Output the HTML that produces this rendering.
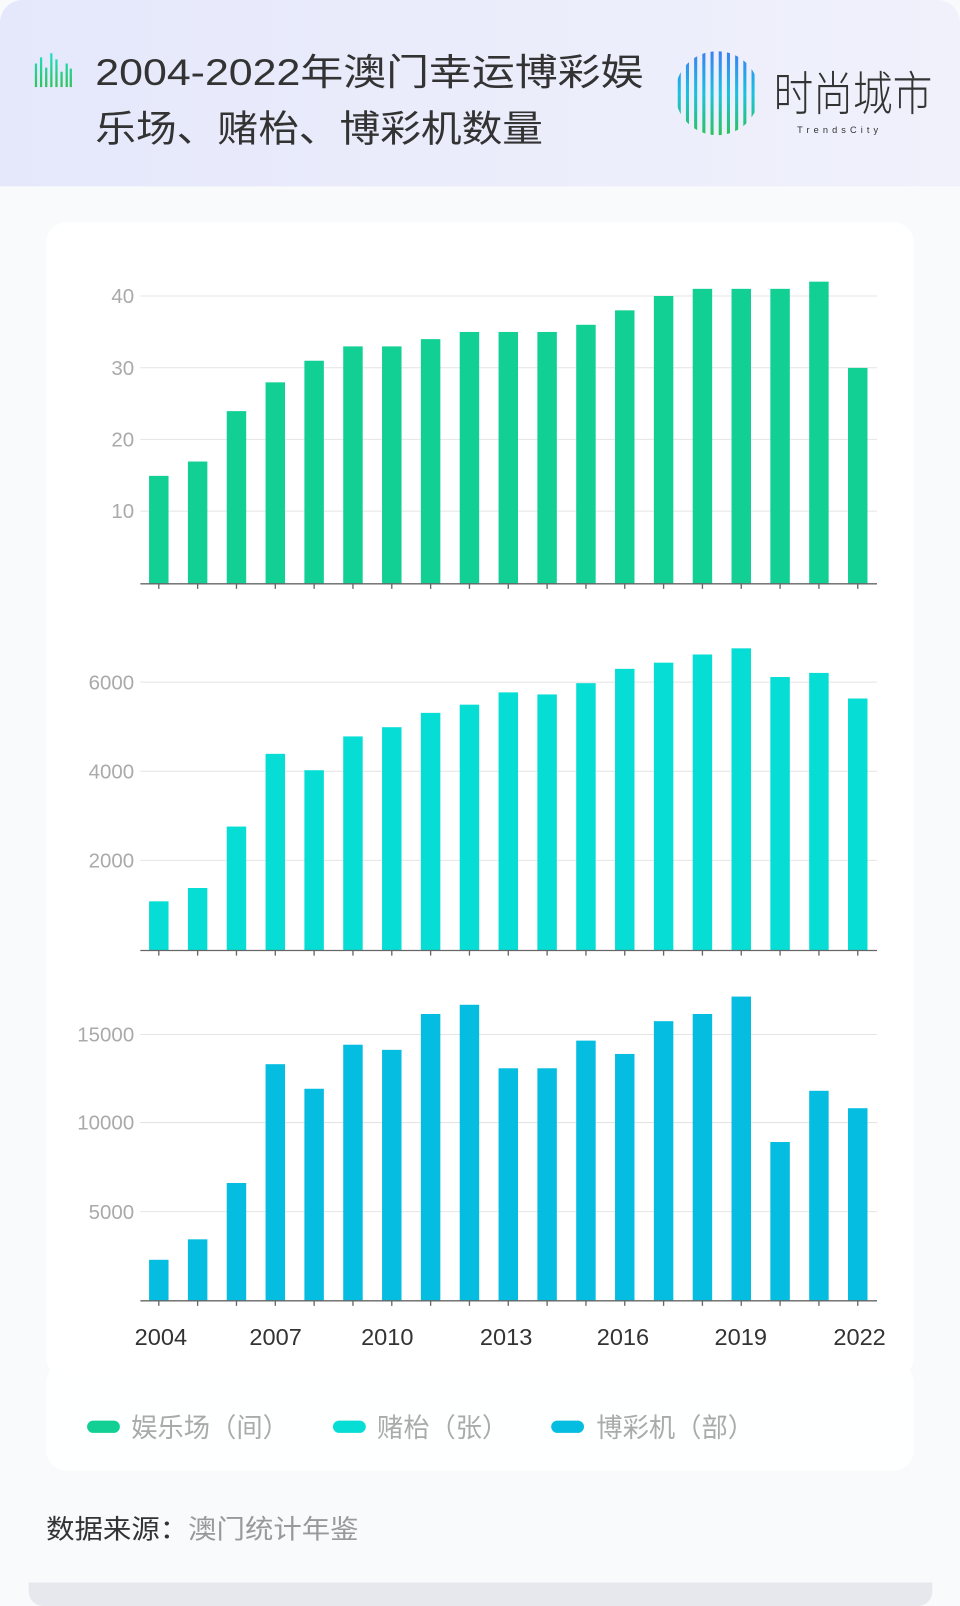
<!DOCTYPE html>
<html><head><meta charset="utf-8"><style>
html,body{margin:0;padding:0;background:#f9fafc;}
svg{display:block}
text{font-family:"Liberation Sans","Noto Sans CJK SC",sans-serif;}
</style></head><body>
<svg width="960" height="1606" viewBox="0 0 937 1568" preserveAspectRatio="none" xmlns="http://www.w3.org/2000/svg">
<defs>
<linearGradient id="hd" x1="0" y1="0" x2="1" y2="0"><stop offset="0" stop-color="#e5e8fb"/><stop offset="1" stop-color="#f0f1fb"/></linearGradient>
<linearGradient id="ic" gradientUnits="userSpaceOnUse" x1="0" y1="52" x2="0" y2="85"><stop offset="0" stop-color="#1de0c8"/><stop offset="1" stop-color="#2fc35a"/></linearGradient>
<linearGradient id="lg" gradientUnits="userSpaceOnUse" x1="0" y1="50" x2="0" y2="132"><stop offset="0" stop-color="#3a7ef5"/><stop offset="0.5" stop-color="#19c3e0"/><stop offset="1" stop-color="#2dc25a"/></linearGradient>
<clipPath id="cc"><circle cx="700" cy="91" r="41"/></clipPath>
</defs>
<rect x="28" y="1520" width="882" height="48" rx="14" fill="#e7e8ed"/>
<rect x="0" y="0" width="937" height="1545" rx="22" fill="#f9fafc"/>
<path d="M0 22 A22 22 0 0 1 22 0 H915 A22 22 0 0 1 937 22 V182 H0 Z" fill="url(#hd)"/>
<g fill="url(#ic)">
<rect x="34" y="62" width="2.2" height="23"/><rect x="39" y="56" width="2.2" height="29"/><rect x="44" y="66" width="2.2" height="19"/><rect x="49" y="52" width="2.2" height="33"/><rect x="54" y="58" width="2.2" height="27"/><rect x="59" y="70" width="2.2" height="15"/><rect x="64" y="62" width="2.2" height="23"/><rect x="68" y="67" width="2.2" height="18"/>
</g>
<text x="93" y="83" font-size="36" fill="#333" textLength="535" lengthAdjust="spacingAndGlyphs">2004-2022年澳门幸运博彩娱</text>
<text x="93" y="138" font-size="36" fill="#333" textLength="437" lengthAdjust="spacingAndGlyphs">乐场、赌枱、博彩机数量</text>
<g clip-path="url(#cc)" stroke="url(#lg)" stroke-width="3" stroke-linecap="round">
<line x1="663" y1="40" x2="663" y2="142"/><line x1="671" y1="40" x2="671" y2="142"/><line x1="679" y1="40" x2="679" y2="142"/><line x1="687" y1="40" x2="687" y2="142"/><line x1="695" y1="40" x2="695" y2="142"/><line x1="703" y1="40" x2="703" y2="142"/><line x1="711" y1="40" x2="711" y2="142"/><line x1="719" y1="40" x2="719" y2="142"/><line x1="727" y1="40" x2="727" y2="142"/><line x1="735" y1="40" x2="735" y2="142"/>
</g>
<text x="755" y="108" font-size="46" fill="#333" font-weight="300" textLength="155" lengthAdjust="spacingAndGlyphs">时尚城市</text>
<text x="778" y="130" font-size="9" fill="#333" letter-spacing="4">TrendsCity</text>
<rect x="45" y="1330" width="847" height="106" rx="20" fill="#fff" opacity="0.85"/>
<rect x="45" y="217" width="847" height="1128" rx="20" fill="#fff"/>
<g stroke="#e4e4e4" stroke-width="1"><line x1="137" y1="289" x2="856" y2="289"/><line x1="137" y1="359" x2="856" y2="359"/><line x1="137" y1="429" x2="856" y2="429"/><line x1="137" y1="499" x2="856" y2="499"/>
<line x1="137" y1="666" x2="856" y2="666"/><line x1="137" y1="753" x2="856" y2="753"/><line x1="137" y1="840" x2="856" y2="840"/>
<line x1="137" y1="1010" x2="856" y2="1010"/><line x1="137" y1="1096" x2="856" y2="1096"/><line x1="137" y1="1183" x2="856" y2="1183"/></g>
<g font-size="20" fill="#aaa" text-anchor="end">
<text x="131" y="296">40</text><text x="131" y="366">30</text><text x="131" y="436">20</text><text x="131" y="506">10</text>
<text x="131" y="673">6000</text><text x="131" y="760">4000</text><text x="131" y="847">2000</text>
<text x="131" y="1017">15000</text><text x="131" y="1103">10000</text><text x="131" y="1190">5000</text>
</g>
<g fill="#12cf94">
<rect x="145.5" y="464.6" width="19" height="105.4"/><rect x="183.4" y="450.6" width="19" height="119.4"/><rect x="221.3" y="401.4" width="19" height="168.6"/><rect x="259.2" y="373.3" width="19" height="196.7"/><rect x="297.1" y="352.2" width="19" height="217.8"/><rect x="335" y="338.2" width="19" height="231.8"/><rect x="372.9" y="338.2" width="19" height="231.8"/><rect x="410.8" y="331.1" width="19" height="238.9"/><rect x="448.7" y="324.1" width="19" height="245.9"/><rect x="486.6" y="324.1" width="19" height="245.9"/><rect x="524.5" y="324.1" width="19" height="245.9"/><rect x="562.4" y="317.1" width="19" height="252.9"/><rect x="600.3" y="303" width="19" height="267"/><rect x="638.2" y="289" width="19" height="281"/><rect x="676.1" y="282" width="19" height="288"/><rect x="714" y="282" width="19" height="288"/><rect x="751.9" y="282" width="19" height="288"/><rect x="789.8" y="275" width="19" height="295"/><rect x="827.7" y="359.2" width="19" height="210.8"/>
</g>
<g fill="#06ddd4">
<rect x="145.5" y="880" width="19" height="48"/><rect x="183.4" y="867" width="19" height="61"/><rect x="221.3" y="807" width="19" height="121"/><rect x="259.2" y="736" width="19" height="192"/><rect x="297.1" y="752" width="19" height="176"/><rect x="335" y="719" width="19" height="209"/><rect x="372.9" y="710" width="19" height="218"/><rect x="410.8" y="696" width="19" height="232"/><rect x="448.7" y="688" width="19" height="240"/><rect x="486.6" y="676" width="19" height="252"/><rect x="524.5" y="678" width="19" height="250"/><rect x="562.4" y="667" width="19" height="261"/><rect x="600.3" y="653" width="19" height="275"/><rect x="638.2" y="647" width="19" height="281"/><rect x="676.1" y="639" width="19" height="289"/><rect x="714" y="633" width="19" height="295"/><rect x="751.9" y="661" width="19" height="267"/><rect x="789.8" y="657" width="19" height="271"/><rect x="827.7" y="682" width="19" height="246"/>
</g>
<g fill="#05bde0">
<rect x="145.5" y="1230" width="19" height="40"/><rect x="183.4" y="1210" width="19" height="60"/><rect x="221.3" y="1155" width="19" height="115"/><rect x="259.2" y="1039" width="19" height="231"/><rect x="297.1" y="1063" width="19" height="207"/><rect x="335" y="1020" width="19" height="250"/><rect x="372.9" y="1025" width="19" height="245"/><rect x="410.8" y="990" width="19" height="280"/><rect x="448.7" y="981" width="19" height="289"/><rect x="486.6" y="1043" width="19" height="227"/><rect x="524.5" y="1043" width="19" height="227"/><rect x="562.4" y="1016" width="19" height="254"/><rect x="600.3" y="1029" width="19" height="241"/><rect x="638.2" y="997" width="19" height="273"/><rect x="676.1" y="990" width="19" height="280"/><rect x="714" y="973" width="19" height="297"/><rect x="751.9" y="1115" width="19" height="155"/><rect x="789.8" y="1065" width="19" height="205"/><rect x="827.7" y="1082" width="19" height="188"/>
</g>
<g stroke="#666" stroke-width="1.3">
<line x1="137" y1="570" x2="856" y2="570"/><line x1="137" y1="928" x2="856" y2="928"/><line x1="137" y1="1270" x2="856" y2="1270"/>
</g>
<g stroke="#666" stroke-width="1.3">
<path d="M155 570v5M192.9 570v5M230.8 570v5M268.7 570v5M306.6 570v5M344.5 570v5M382.4 570v5M420.3 570v5M458.2 570v5M496.1 570v5M534 570v5M571.9 570v5M609.8 570v5M647.7 570v5M685.6 570v5M723.5 570v5M761.4 570v5M799.3 570v5M837.2 570v5"/>
<path d="M155 928v5M192.9 928v5M230.8 928v5M268.7 928v5M306.6 928v5M344.5 928v5M382.4 928v5M420.3 928v5M458.2 928v5M496.1 928v5M534 928v5M571.9 928v5M609.8 928v5M647.7 928v5M685.6 928v5M723.5 928v5M761.4 928v5M799.3 928v5M837.2 928v5"/>
<path d="M155 1270v5M192.9 1270v5M230.8 1270v5M268.7 1270v5M306.6 1270v5M344.5 1270v5M382.4 1270v5M420.3 1270v5M458.2 1270v5M496.1 1270v5M534 1270v5M571.9 1270v5M609.8 1270v5M647.7 1270v5M685.6 1270v5M723.5 1270v5M761.4 1270v5M799.3 1270v5M837.2 1270v5"/>
</g>
<g font-size="23" fill="#333" text-anchor="middle">
<text x="157" y="1313">2004</text><text x="269" y="1313">2007</text><text x="378" y="1313">2010</text><text x="494" y="1313">2013</text><text x="608" y="1313">2016</text><text x="723" y="1313">2019</text><text x="839" y="1313">2022</text>
</g>
<rect x="85" y="1387" width="32" height="12" rx="6" fill="#12cf94"/>
<rect x="325" y="1387" width="32" height="12" rx="6" fill="#06ddd4"/>
<rect x="538" y="1387" width="32" height="12" rx="6" fill="#05bde0"/>
<g font-size="26" fill="#aaa">
<text x="128" y="1403" textLength="154" lengthAdjust="spacingAndGlyphs">娱乐场（间）</text><text x="368" y="1403" textLength="128" lengthAdjust="spacingAndGlyphs">赌枱（张）</text><text x="582" y="1403" textLength="154" lengthAdjust="spacingAndGlyphs">博彩机（部）</text>
</g>
<text x="45" y="1502" font-size="26" fill="#333" textLength="305" lengthAdjust="spacingAndGlyphs">数据来源：<tspan fill="#999">澳门统计年鉴</tspan></text>
</svg>
</body></html>
